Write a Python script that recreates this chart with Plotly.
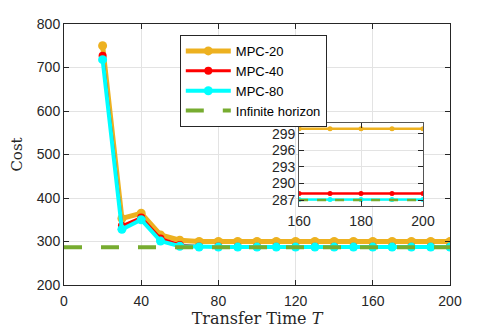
import plotly.graph_objects as go

# Transfer time horizon samples
T = [20, 30, 40, 50, 60, 70, 80, 90, 100, 110, 120, 130, 140, 150, 160, 170, 180, 190, 200]

mpc20 = [750, 353, 365, 315, 303, 300, 300, 299.9, 299.9, 299.9, 299.9, 299.9, 299.9,
         299.9, 299.9, 299.9, 299.9, 299.9, 299.9]
mpc40 = [727, 336, 355, 307, 292, 288.5, 288.3, 288.2, 288.2, 288.2, 288.2, 288.2, 288.2,
         288.2, 288.2, 288.2, 288.2, 288.2, 288.2]
mpc80 = [718, 328, 350, 301, 289, 287.3, 287.1, 287.1, 287.1, 287.1, 287.1, 287.1, 287.1,
         287.1, 287.1, 287.1, 287.1, 287.1, 287.1]

inf_T = [0, 200]
inf_cost = [287, 287]

ORANGE = "#EDB120"
RED = "#FF0000"
CYAN = "#00FFFF"
GREEN = "#77AC30"

fig = go.Figure()

# main plot
fig.add_trace(go.Scatter(x=T, y=mpc20, name="MPC-20", mode="lines+markers",
                         line=dict(color=ORANGE, width=5), marker=dict(size=9)))
fig.add_trace(go.Scatter(x=T, y=mpc40, name="MPC-40", mode="lines+markers",
                         line=dict(color=RED, width=3), marker=dict(size=8)))
fig.add_trace(go.Scatter(x=T, y=mpc80, name="MPC-80", mode="lines+markers",
                         line=dict(color=CYAN, width=4), marker=dict(size=9)))
fig.add_trace(go.Scatter(x=inf_T, y=inf_cost, name="Infinite horizon", mode="lines",
                         line=dict(color=GREEN, width=4, dash="18px,19px")))

# inset, zoomed on the tail
zoom = [i for i, t in enumerate(T) if t >= 160]
for name, ys, col in [("MPC-20", mpc20, ORANGE), ("MPC-40", mpc40, RED), ("MPC-80", mpc80, CYAN)]:
    fig.add_trace(go.Scatter(x=[T[i] for i in zoom], y=[ys[i] for i in zoom], name=name,
                             mode="lines+markers", showlegend=False, xaxis="x2", yaxis="y2",
                             line=dict(color=col, width=2.5), marker=dict(size=5)))
fig.add_trace(go.Scatter(x=[160, 200], y=inf_cost, name="Infinite horizon", mode="lines",
                         showlegend=False, xaxis="x2", yaxis="y2",
                         line=dict(color=GREEN, width=2.5, dash="9px,9px")))

axis_common = dict(showline=True, linecolor="#262626", linewidth=1, mirror="ticks",
                   ticks="inside", ticklen=5, tickcolor="#262626", showgrid=True,
                   gridcolor="#e3e3e3", zeroline=False, automargin=False,
                   tickfont=dict(family="Liberation Sans, Arial", size=14, color="#262626"))

# the page body adds an 8px offset, so the figure is made 8px smaller
fig.update_layout(
    width=490, height=324,
    margin=dict(l=56, r=48, t=16, b=47),
    paper_bgcolor="white", plot_bgcolor="white",
    showlegend=True,
    legend=dict(x=0.30, y=0.958, xanchor="left", yanchor="top",
                bordercolor="#262626", borderwidth=1, bgcolor="white",
                font=dict(family="Liberation Sans, Arial", size=13, color="black"),
                tracegroupgap=0, itemwidth=45),
    xaxis=dict(range=[0, 200], tickvals=[0, 40, 80, 120, 160, 200], ticklabelstandoff=3,
               title=dict(text="Transfer Time <i>T</i>", standoff=3,
                          font=dict(family="DejaVu Serif, serif", size=16, color="#262626")),
               **axis_common),
    yaxis=dict(range=[200, 800], tickvals=[200, 300, 400, 500, 600, 700, 800],
               title=dict(text="Cost", standoff=13,
                          font=dict(family="DejaVu Serif, serif", size=15, color="#262626")),
               **axis_common),
    xaxis2=dict(domain=[0.609, 0.930], anchor="y2", range=[160, 200], ticklabelstandoff=3,
                tickvals=[160, 180, 200], **{**axis_common, "linecolor": "#555555"}),
    yaxis2=dict(domain=[0.304, 0.622], anchor="x2", range=[286, 301],
                tickvals=[287, 290, 293, 296, 299], **{**axis_common, "linecolor": "#555555"}),
)

fig.write_html("out.html")
